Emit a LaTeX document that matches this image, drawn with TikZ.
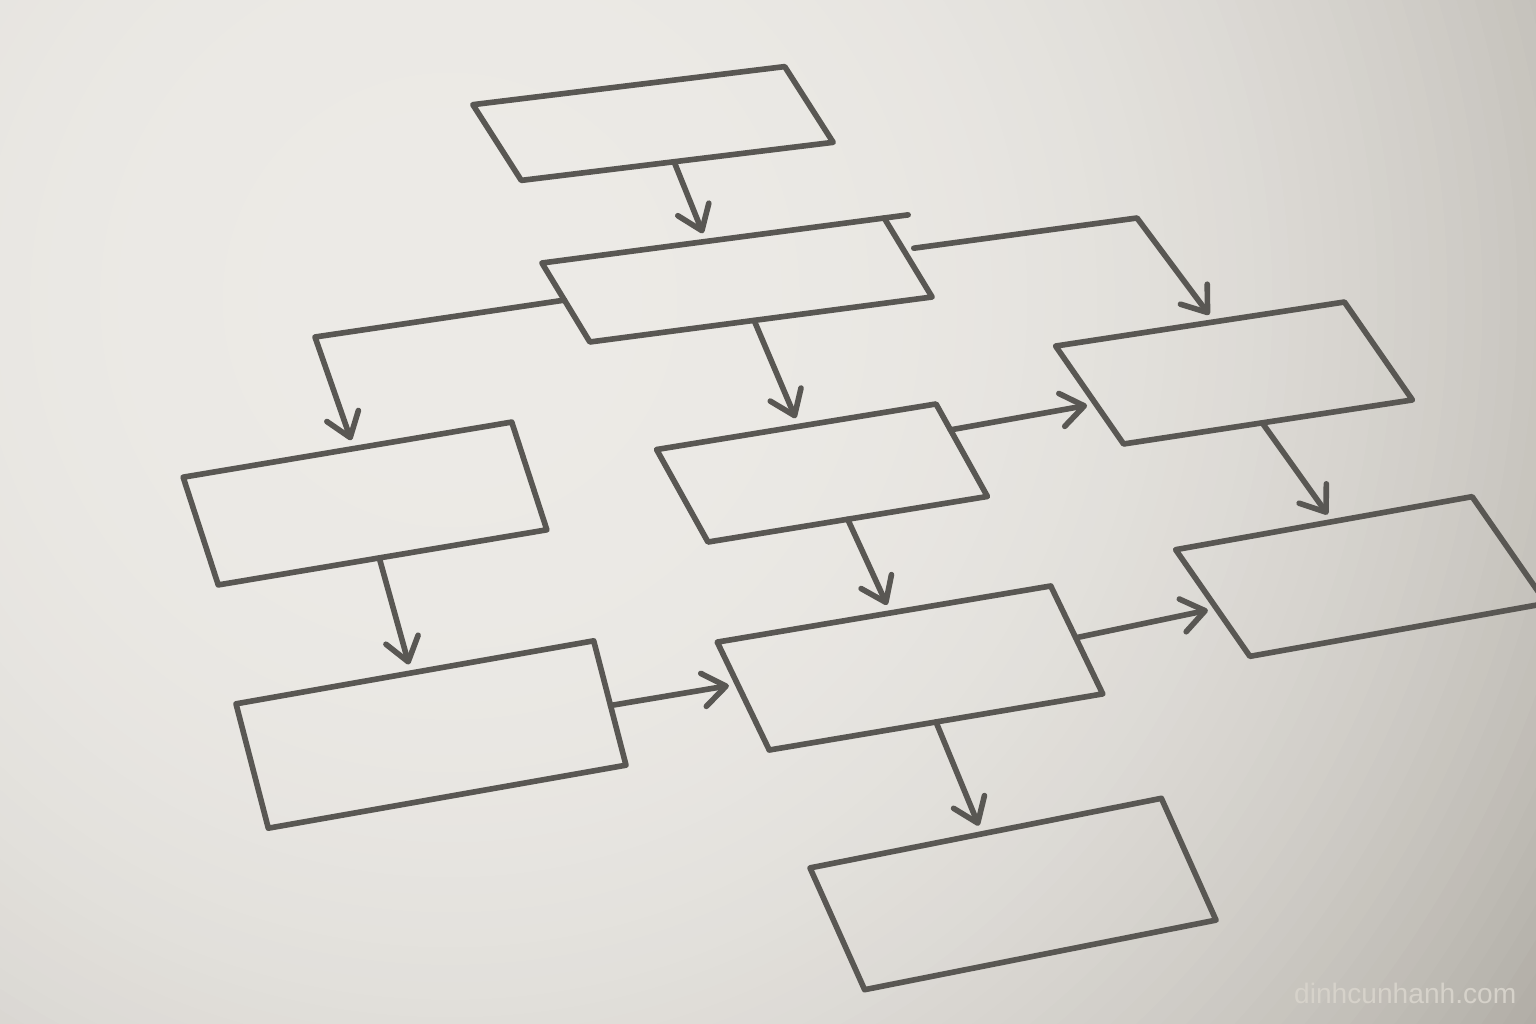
\documentclass[tikz,border=0pt]{standalone}
\usepackage{fontspec}
\usepackage{xcolor}
\usepackage{tikz}
\usetikzlibrary{calc,arrows.meta}
\newfontfamily\stampfont{Liberation Sans}
\definecolor{paperhi}{HTML}{ECEAE6}
\definecolor{paperlo}{HTML}{A5A199}
\definecolor{graphite}{HTML}{595753}
\definecolor{stampgray}{HTML}{D6D2CA}
\tikzset{
  pencil/.style={draw=graphite, line width=1.6pt, line cap=round, line join=round},
  card/.style={pencil, rectangle, inner sep=0pt, outer sep=0pt},
  arr/.style={pencil, -{Straight Barb[length=6.5pt, width=9.5pt, round]}, shorten >=2.5pt},
  stamp/.style={text=stampgray, font=\stampfont\fontsize{8}{10}\selectfont, inner sep=0pt},
}

\begin{document}
\begin{tikzpicture}[x=0.01cm, y=-0.01cm]
  \useasboundingbox (0,0) rectangle (1536,1024);
  % paper, darker towards the lower right
  \begin{scope}
    \clip (0,0) rectangle (1536,1024);
    \fill[paperlo] (0,0) rectangle (1536,1024);
    \foreach \k in {0,...,79}{
      \pgfmathsetmacro{\rr}{1-\k/80}
      \pgfmathsetmacro{\tone}{100*\rr^2.8}
      \fill[paperlo!\tone!paperhi] (450,300) circle ({1400*\rr});
    }
  \end{scope}
  % boxes
  \node[card, minimum width=3.14cm, minimum height=0.81cm, rotate=6.96, xslant=-0.48] (A) at (653,123.5) {};
  \node[card, minimum width=3.45cm, minimum height=0.845cm, rotate=7.49, xslant=-0.44] (B) at (737,280) {};
  \node[card, minimum width=2.92cm, minimum height=1.07cm, rotate=8.67, xslant=-0.49] (C) at (1234,373) {};
  \node[card, minimum width=3.33cm, minimum height=1.12cm, rotate=9.52, xslant=-0.15] (D) at (365,503.5) {};
  \node[card, minimum width=2.83cm, minimum height=0.995cm, rotate=9.26, xslant=-0.36] (E) at (822,473) {};
  \node[card, minimum width=3.01cm, minimum height=1.18cm, rotate=10.14, xslant=-0.46] (F) at (1361,576.5) {};
  \node[card, minimum width=3.63cm, minimum height=1.28cm, rotate=9.99, xslant=-0.08] (G) at (431,734.5) {};
  \node[card, minimum width=3.38cm, minimum height=1.15cm, rotate=9.55, xslant=-0.29] (H) at (910,668) {};
  \node[card, minimum width=3.58cm, minimum height=1.30cm, rotate=11.2, xslant=-0.23] (I) at (1013,894) {};
  % top edge of B runs on a little
  \draw[pencil] (B.north east) -- ($(B.north west)!1.07!(B.north east)$);
  % elbows
  \coordinate (elbowL) at (315,337);
  \coordinate (elbowR) at (1137,218);
  % arrows
  \draw[arr] ($(A.south west)!0.49!(A.south east)$) -- ($(B.north west)!0.48!(B.north east)$);
  \draw[arr] ($(B.north west)!0.47!(B.south west)$) -- (elbowL) -- ($(D.north west)!0.52!(D.north east)$);
  \draw[arr, shorten <=3pt] ($(B.north east)!0.40!(B.south east)$) -- (elbowR) -- ($(C.north west)!0.55!(C.north east)$);
  \draw[arr] ($(B.south west)!0.48!(B.south east)$) -- ($(E.north west)!0.51!(E.north east)$);
  \draw[arr] ($(E.north east)!0.28!(E.south east)$) -- ($(C.north west)!0.59!(C.south west)$);
  \draw[arr] ($(C.south west)!0.48!(C.south east)$) -- ($(F.north west)!0.53!(F.north east)$);
  \draw[arr] ($(D.south west)!0.49!(D.south east)$) -- ($(G.north west)!0.49!(G.north east)$);
  \draw[arr] ($(E.south west)!0.50!(E.south east)$) -- ($(H.north west)!0.52!(H.north east)$);
  \draw[arr] ($(G.north east)!0.52!(G.south east)$) -- ($(H.north west)!0.39!(H.south west)$);
  \draw[arr] ($(H.north east)!0.48!(H.south east)$) -- ($(F.north west)!0.55!(F.south west)$);
  \draw[arr] ($(H.south west)!0.50!(H.south east)$) -- ($(I.north west)!0.49!(I.north east)$);
  % watermark
  \node[stamp, anchor=base east] (wm) at (1517,1003) {dinhcunhanh.com};
\end{tikzpicture}
\end{document}
